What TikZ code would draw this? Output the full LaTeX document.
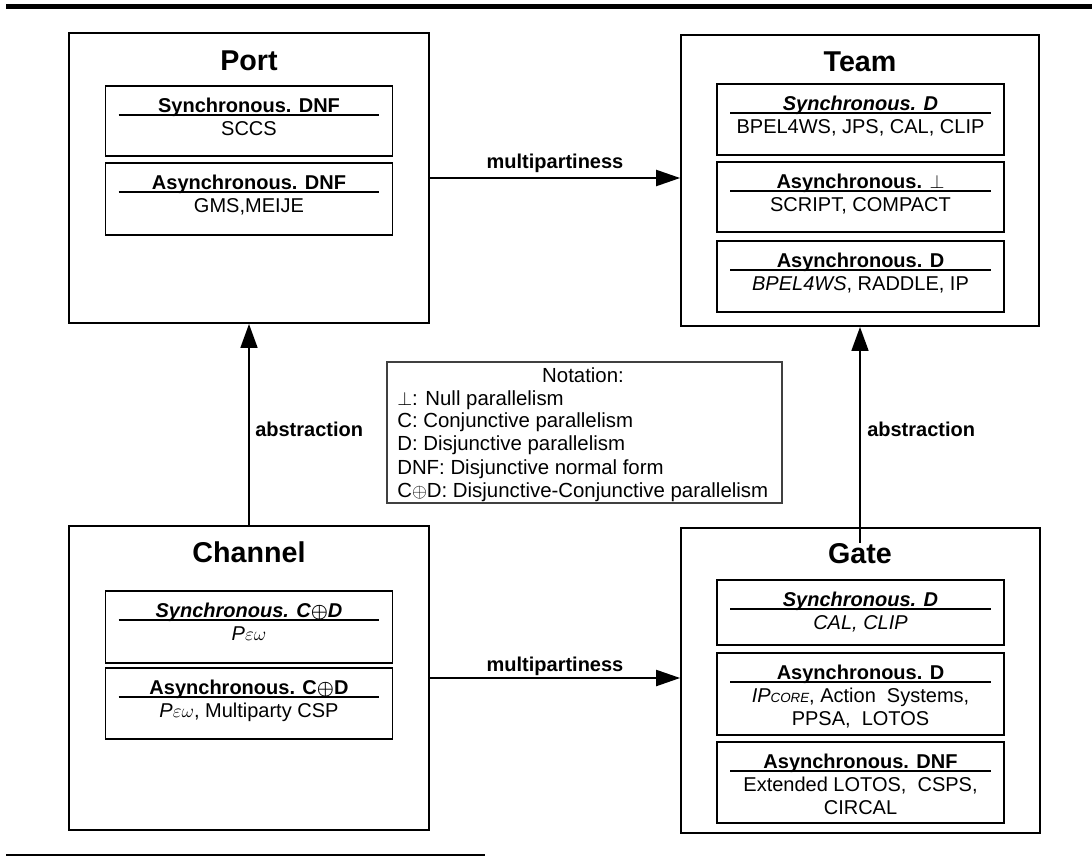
\documentclass[tikz,border=0pt]{standalone}
\usepackage{amsmath}
\usepackage{fontspec}
\setmainfont{Liberation Sans}
\usetikzlibrary{arrows.meta,calc}

% one classified section inside a model box: header, rule, first body line
\newcommand\catbox[6]{%
  \node[innerbox, minimum height=#4*0.75pt, anchor=north] (#1) at (#2,#3) {};
  \node[headtext, anchor=base] (#1-h) at ($(#1.north)+(0,27)$) {#5};
  \draw[uline] ($(#1.north west)+(14,30)$) -- ($(#1.north east)+(-14,30)$);
  \node[bodytext, anchor=base] (#1-b) at ($(#1.north)+(0,50)$) {#6};
}

\begin{document}
\begin{tikzpicture}[x=0.75pt,y=-0.75pt,
  outerbox/.style={draw, line width=1.3pt, inner sep=0pt},
  innerbox/.style={draw, line width=1.2pt, inner sep=0pt, minimum width=215.5pt},
  titletext/.style={font=\bfseries\fontsize{21.5}{24}\selectfont, inner sep=0pt},
  headtext/.style={font=\bfseries\fontsize{15}{17}\selectfont, inner sep=0pt},
  bodytext/.style={font=\fontsize{15}{17}\selectfont, inner sep=0pt},
  notetext/.style={font=\fontsize{15.3}{17}\selectfont, inner sep=0pt},
  labeltext/.style={font=\bfseries\fontsize{15}{17}\selectfont, inner sep=0pt},
  uline/.style={line width=1.4pt},
  conn/.style={-{Triangle[length=18pt,width=12pt]}, line width=1.6pt},
  vconn/.style={-{Triangle[length=18pt,width=12.5pt]}, line width=2pt}]

\useasboundingbox (0,0) rectangle (1092,858);

% page rules
\draw[line width=3.75pt] (6,6) -- (1092,6);
\draw[line width=2pt] (6,855) -- (485,855);

% ---- Port ----
\node[outerbox, minimum width=270pt, minimum height=217.5pt] (port) at (249,178) {};
\node[titletext, anchor=base] (port-t) at (249,70) {Port};
\catbox{p1}{249}{85}{70}{Synchronous. DNF}{SCCS}
\catbox{p2}{249}{162}{72}{Asynchronous. DNF}{GMS,MEIJE}

% ---- Team ----
\node[outerbox, minimum width=268.5pt, minimum height=218.25pt] (team) at (860,180.5) {};
\node[titletext, anchor=base] (team-t) at (860,71) {Team};
\catbox{t1}{860.5}{83}{71}{\itshape Synchronous. D}{BPEL4WS, JPS, CAL, CLIP}
\catbox{t2}{860.5}{161}{70}{Asynchronous. $\perp$}{SCRIPT, COMPACT}
\catbox{t3}{860.5}{240}{71}{Asynchronous. D}{\textit{BPEL4WS}, RADDLE, IP}

% ---- Channel ----
\node[outerbox, minimum width=270pt, minimum height=228pt] (channel) at (249,678) {};
\node[titletext, anchor=base] (channel-t) at (249,562) {Channel};
\catbox{c1}{249}{590}{72}{\itshape Synchronous. C$\boldsymbol{\oplus}$D}{\textit{P}$\varepsilon\omega$}
\catbox{c2}{249}{667}{71}{Asynchronous. C$\boldsymbol{\oplus}$D}{\textit{P}$\varepsilon\omega$, Multiparty CSP}

% ---- Gate ----
\node[outerbox, minimum width=269.25pt, minimum height=228.75pt] (gate) at (860.5,680.5) {};
\node[titletext, anchor=base] (gate-t) at (860,563) {Gate};
\catbox{g1}{860.5}{579}{65}{\itshape Synchronous. D}{\itshape CAL, CLIP}
\catbox{g2}{860.5}{652}{82}{Asynchronous. D}{{\itshape IP{\fontsize{10}{10}\selectfont CORE}}, Action\ \ Systems,}
\node[bodytext, anchor=base] (g2-b2) at ($(g2.north)+(0,73.5)$) {PPSA,\ \ LOTOS};
\catbox{g3}{860.5}{741}{81}{Asynchronous. DNF}{Extended LOTOS,\ \ CSPS,}
\node[bodytext, anchor=base] (g3-b2) at ($(g3.north)+(0,73.5)$) {CIRCAL};

% ---- notation legend ----
\node[draw=black!75, line width=1pt, inner sep=0pt, minimum width=296.25pt, minimum height=105.75pt] (notation) at (584.5,432.5) {};
\node[notetext, anchor=base] (nt) at (583,382) {Notation:};
\node[notetext, anchor=base west] (n1) at (397,405) {$\perp$: Null parallelism};
\node[notetext, anchor=base west] (n2) at (397,427.5) {C: Conjunctive parallelism};
\node[notetext, anchor=base west] (n3) at (397,450.5) {D: Disjunctive parallelism};
\node[notetext, anchor=base west] (n4) at (397,474) {DNF: Disjunctive normal form};
\node[notetext, anchor=base west] (n5) at (397,497) {C$\oplus$D: Disjunctive-Conjunctive parallelism};

% ---- relations ----
\draw[conn] (port.east) -- (port.east -| team.west);
\node[labeltext, anchor=base] (mp1) at (555,168) {multipartiness};
\draw[conn] (channel.east) -- (channel.east -| gate.west);
\node[labeltext, anchor=base] (mp2) at (555,671) {multipartiness};

\draw[vconn] (channel.north) -- (port.south);
\node[labeltext, anchor=base west] (ab1) at (255,436) {abstraction};
\draw[vconn] (gate-t.north -| team.south) -- (team.south);
\node[labeltext, anchor=base west] (ab2) at (867,436) {abstraction};

\end{tikzpicture}
\end{document}
